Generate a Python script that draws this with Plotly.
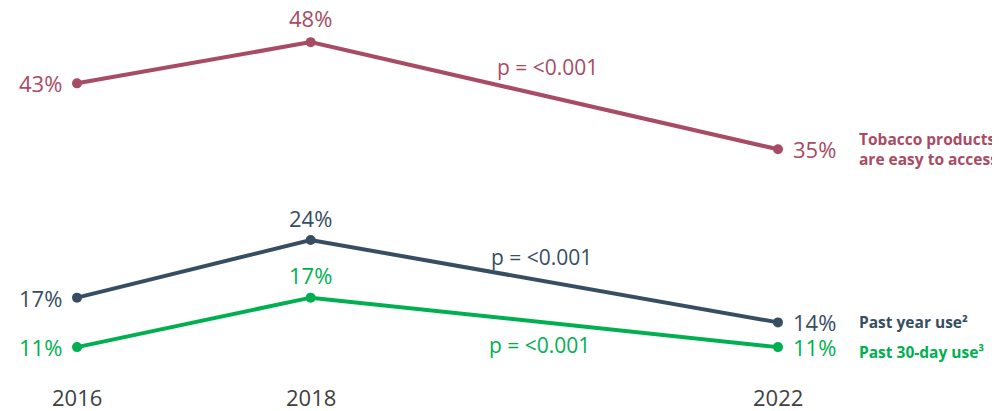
import plotly.graph_objects as go

years = [2016, 2018, 2022]
year_labels = ["2016", "2018", "2022"]
easy_access = [43, 48, 35]
past_year = [17, 24, 14]
past_30day = [11, 17, 11]

series = [
    ("Tobacco products<br>are easy to access¹", easy_access, "#A84B64"),
    ("Past year use²", past_year, "#374E62"),
    ("Past 30-day use³", past_30day, "#00B050"),
]
FONT = "Open Sans, Noto Sans, sans-serif"

fig = go.Figure()
for name, vals, col in series:
    fig.add_trace(go.Scatter(x=years, y=vals, mode="lines+markers",
                             line=dict(color=col, width=4),
                             marker=dict(color=col, size=10),
                             showlegend=False, hoverinfo="skip"))

ann = []
def lab(x, y, text, col, xanchor="center", yanchor="middle", xshift=0, yshift=0, size=22, bold=False):
    ann.append(dict(x=x, y=y, xref="x", yref="y", text=("<b>%s</b>" % text) if bold else text,
                    showarrow=False, xanchor=xanchor, yanchor=yanchor, align="left",
                    xshift=xshift, yshift=yshift,
                    font=dict(family=FONT, size=size, color=col)))

# value labels
for name, vals, col in series:
    lab(years[0], vals[0], f"{vals[0]}%", col, xanchor="right", xshift=-13)
    lab(years[2], vals[2], f"{vals[2]}%", col, xanchor="left", xshift=13)
lab(years[1], easy_access[1], f"{easy_access[1]}%", series[0][2], yshift=24)
lab(years[1], past_year[1], f"{past_year[1]}%", series[1][2], yshift=22)
lab(years[1], past_30day[1], f"{past_30day[1]}%", series[2][2], yshift=23)

# p-values
lab(2020.03, 44.98, "p = <0.001", series[0][2], size=21)
lab(2019.98, 21.93, "p = <0.001", series[1][2], size=21)
lab(2019.96, 11.25, "p = <0.001", series[2][2], size=21)

# series names
lab(years[2], easy_access[2], series[0][0], series[0][2], xanchor="left", xshift=79, yshift=0, size=15.5, bold=True)
lab(years[2], past_year[2], series[1][0], series[1][2], xanchor="left", xshift=79, yshift=0, size=15.5, bold=True)
lab(years[2], past_30day[2], series[2][0], series[2][2], xanchor="left", xshift=79, yshift=-5, size=15.5, bold=True)

# year labels (page has 8px body margin -> figure is 992x403)
H = 403
for yr, t in zip(years, year_labels):
    ann.append(dict(x=yr, y=1 - 389 / H, xref="x", yref="paper", text=t, showarrow=False,
                    xanchor="center", yanchor="middle",
                    font=dict(family=FONT, size=22, color="#404040")))

fig.update_layout(
    width=992, height=H, autosize=False,
    margin=dict(l=0, r=0, t=0, b=0),
    paper_bgcolor="white", plot_bgcolor="white",
    xaxis=dict(range=[2015.4094, 2023.9004], visible=False, fixedrange=True),
    yaxis=dict(range=[3.25, 52.14], visible=False, fixedrange=True),
    annotations=ann,
)
fig.write_html("out.html")
